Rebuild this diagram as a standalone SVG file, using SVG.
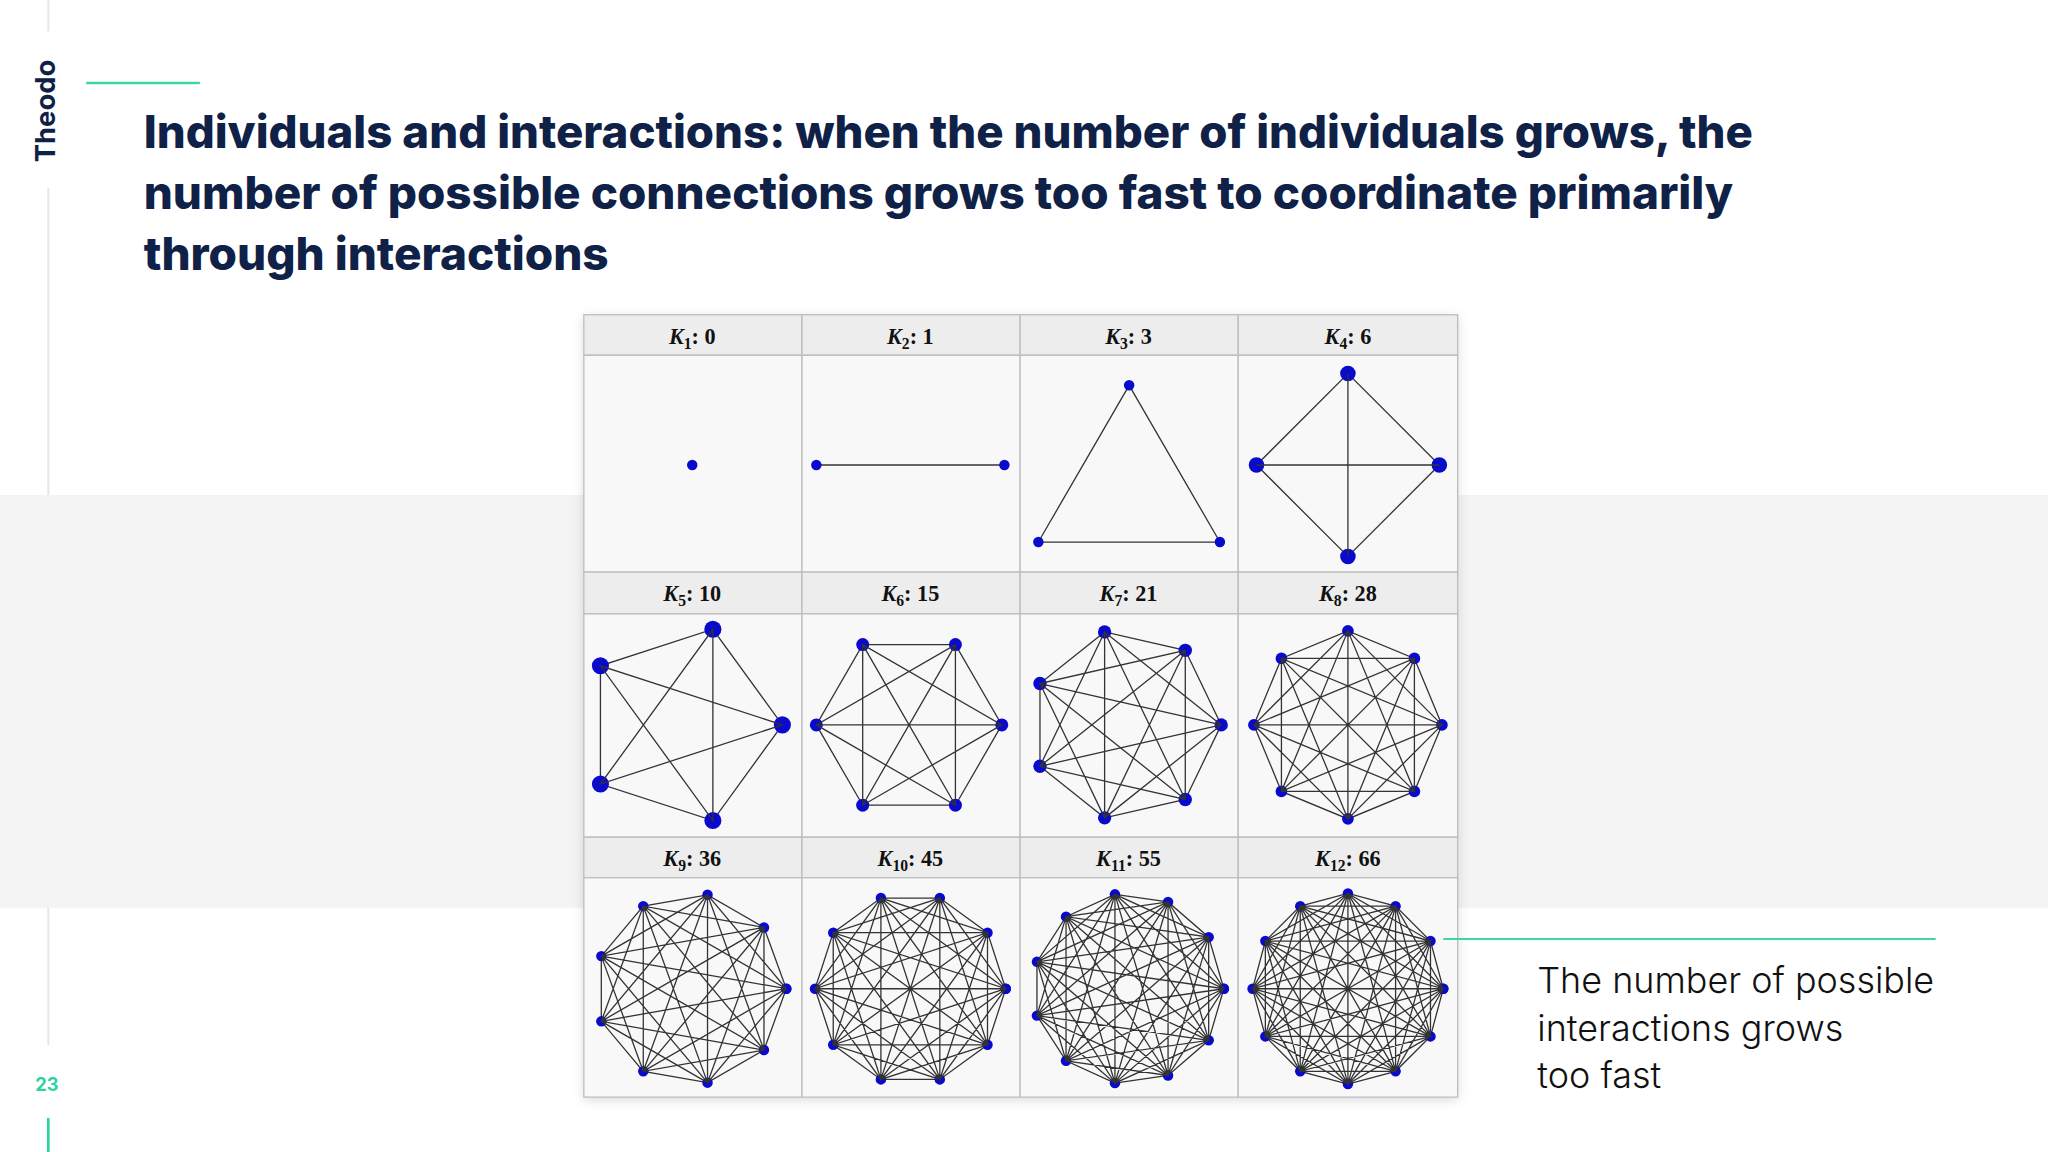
<svg xmlns="http://www.w3.org/2000/svg" width="2048" height="1152" viewBox="0 0 2048 1152">
<style>
.e{fill:none;stroke:#333;stroke-width:1.3;vector-effect:non-scaling-stroke}
.r{marker-start:url(#dS);marker-mid:url(#dS);marker-end:url(#dS)}
.hd{font-family:"Liberation Serif",serif;font-size:17px;font-weight:bold;fill:#111;text-anchor:middle}
.t{font-family:Inter,"Noto Sans",sans-serif;font-weight:800;font-size:35px;fill:#0f2147}
.n{font-family:Inter,"Noto Sans",sans-serif;font-size:27.5px;font-weight:300;fill:#111}
.hb{fill:#ededed;stroke:#bdbdbd;stroke-width:1}
.cb{fill:#f8f8f8;stroke:#bdbdbd;stroke-width:1}
</style>
<defs>
<marker id="dS" markerUnits="userSpaceOnUse" viewBox="-10 -10 20 20" markerWidth="20" markerHeight="20" refX="0" refY="0" overflow="visible"><circle r="5.5" fill="#0a0acc"/></marker>
<marker id="dM" markerUnits="userSpaceOnUse" viewBox="-10 -10 20 20" markerWidth="20" markerHeight="20" refX="0" refY="0" overflow="visible"><circle r="7" fill="#0a0acc"/></marker>
<marker id="dL" markerUnits="userSpaceOnUse" viewBox="-10 -10 20 20" markerWidth="20" markerHeight="20" refX="0" refY="0" overflow="visible"><circle r="8.5" fill="#0a0acc"/></marker>
<marker id="d8" markerUnits="userSpaceOnUse" viewBox="-10 -10 20 20" markerWidth="20" markerHeight="20" refX="0" refY="0" overflow="visible"><circle r="6.2" fill="#0a0acc"/></marker>
<marker id="dA" markerUnits="userSpaceOnUse" viewBox="-10 -10 20 20" markerWidth="20" markerHeight="20" refX="0" refY="0" overflow="visible"><circle r="4" fill="#0a0acc"/></marker>
<filter id="sh" x="-5%" y="-5%" width="110%" height="110%"><feDropShadow dx="0" dy="2" stdDeviation="4" flood-color="#000" flood-opacity="0.15"/></filter>
</defs>
<rect width="2048" height="1152" fill="#fff"/>
<g transform="scale(1.30612)">
<rect id="band" x="0" y="379" width="1568" height="316" fill="#f3f3f3"/>
<g id="sidebar">
<line x1="37" y1="0" x2="37" y2="24" stroke="#e6e6e6" stroke-width="1.5"/>
<line x1="37" y1="144" x2="37" y2="379" stroke="#e6e6e6" stroke-width="1.5"/>
<line x1="37" y1="695" x2="37" y2="800" stroke="#e6e6e6" stroke-width="1.5"/>
<text x="0" y="0" transform="translate(42,85) rotate(-90)" text-anchor="middle" font-family="Inter,'Noto Sans',sans-serif" font-weight="bold" font-size="21" fill="#0f2147">Theodo</text>
<text x="36" y="835" text-anchor="middle" font-family="Inter,'Noto Sans',sans-serif" font-weight="bold" font-size="14" fill="#2bd3a0">23</text>
<line x1="37" y1="856" x2="37" y2="882" stroke="#2bd3a0" stroke-width="2"/>
</g>
<line x1="66" y1="63.5" x2="153" y2="63.5" stroke="#3dd6a6" stroke-width="2"/>
<g id="title">
<text class="t" x="110" y="113" textLength="1232" lengthAdjust="spacingAndGlyphs">Individuals and interactions: when the number of individuals grows, the</text>
<text class="t" x="110" y="160" textLength="1217" lengthAdjust="spacingAndGlyphs">number of possible connections grows too fast to coordinate primarily</text>
<text class="t" x="110" y="207" textLength="356" lengthAdjust="spacingAndGlyphs">through interactions</text>
</g>
<g id="table">
<rect x="447" y="241" width="669" height="599" fill="#f8f8f8" filter="url(#sh)"/>
<rect class="hb" x="447" y="241" width="167" height="31"/><rect class="hb" x="614" y="241" width="167" height="31"/><rect class="hb" x="781" y="241" width="167" height="31"/><rect class="hb" x="948" y="241" width="168" height="31"/>
<rect class="cb" x="447" y="272" width="167" height="166"/><rect class="cb" x="614" y="272" width="167" height="166"/><rect class="cb" x="781" y="272" width="167" height="166"/><rect class="cb" x="948" y="272" width="168" height="166"/>
<rect class="hb" x="447" y="438" width="167" height="32"/><rect class="hb" x="614" y="438" width="167" height="32"/><rect class="hb" x="781" y="438" width="167" height="32"/><rect class="hb" x="948" y="438" width="168" height="32"/>
<rect class="cb" x="447" y="470" width="167" height="171"/><rect class="cb" x="614" y="470" width="167" height="171"/><rect class="cb" x="781" y="470" width="167" height="171"/><rect class="cb" x="948" y="470" width="168" height="171"/>
<rect class="hb" x="447" y="641" width="167" height="31"/><rect class="hb" x="614" y="641" width="167" height="31"/><rect class="hb" x="781" y="641" width="167" height="31"/><rect class="hb" x="948" y="641" width="168" height="31"/>
<rect class="cb" x="447" y="672" width="167" height="168"/><rect class="cb" x="614" y="672" width="167" height="168"/><rect class="cb" x="781" y="672" width="167" height="168"/><rect class="cb" x="948" y="672" width="168" height="168"/>
<text class="hd" x="530" y="263"><tspan font-style="italic">K</tspan><tspan font-size="12" dy="4">1</tspan><tspan dy="-4">: 0</tspan></text>
<text class="hd" x="697" y="263"><tspan font-style="italic">K</tspan><tspan font-size="12" dy="4">2</tspan><tspan dy="-4">: 1</tspan></text>
<text class="hd" x="864" y="263"><tspan font-style="italic">K</tspan><tspan font-size="12" dy="4">3</tspan><tspan dy="-4">: 3</tspan></text>
<text class="hd" x="1032" y="263"><tspan font-style="italic">K</tspan><tspan font-size="12" dy="4">4</tspan><tspan dy="-4">: 6</tspan></text>
<text class="hd" x="530" y="460"><tspan font-style="italic">K</tspan><tspan font-size="12" dy="4">5</tspan><tspan dy="-4">: 10</tspan></text>
<text class="hd" x="697" y="460"><tspan font-style="italic">K</tspan><tspan font-size="12" dy="4">6</tspan><tspan dy="-4">: 15</tspan></text>
<text class="hd" x="864" y="460"><tspan font-style="italic">K</tspan><tspan font-size="12" dy="4">7</tspan><tspan dy="-4">: 21</tspan></text>
<text class="hd" x="1032" y="460"><tspan font-style="italic">K</tspan><tspan font-size="12" dy="4">8</tspan><tspan dy="-4">: 28</tspan></text>
<text class="hd" x="530" y="663"><tspan font-style="italic">K</tspan><tspan font-size="12" dy="4">9</tspan><tspan dy="-4">: 36</tspan></text>
<text class="hd" x="697" y="663"><tspan font-style="italic">K</tspan><tspan font-size="12" dy="4">10</tspan><tspan dy="-4">: 45</tspan></text>
<text class="hd" x="864" y="663"><tspan font-style="italic">K</tspan><tspan font-size="12" dy="4">11</tspan><tspan dy="-4">: 55</tspan></text>
<text class="hd" x="1032" y="663"><tspan font-style="italic">K</tspan><tspan font-size="12" dy="4">12</tspan><tspan dy="-4">: 66</tspan></text>
</g>
<g id="K1"><circle cx="530" cy="356" r="4" fill="#0a0acc"/></g>
<g id="K2"><path class="e" d="M625,356L769,356" marker-start="url(#dA)" marker-end="url(#dA)"/></g>
<g id="K3"><path class="e" d="M864.5,295L934,415L795,415Z" marker-start="url(#dA)" marker-mid="url(#dA)"/></g>
<g id="K4" transform="translate(1032,356) scale(0.7)">
<path class="e" d="M100,0L0,100L-100,0L0,-100Z" marker-start="url(#dL)" marker-mid="url(#dL)"/>
<path class="e" d="M100,0L-100,0M0,100L0,-100"/>
</g>
<g id="K5" transform="translate(522,555) scale(0.77)">
<path class="e" d="M100,0L30.9,95.1L-80.9,58.8L-80.9,-58.8L30.9,-95.1Z" marker-start="url(#dL)" marker-mid="url(#dL)"/>
<path class="e" d="M100,0L-80.9,58.8L30.9,-95.1L30.9,95.1L-80.9,-58.8Z"/>
</g>
<g id="K6" transform="translate(696,555) scale(0.71)">
<path class="e" d="M100,0L50,86.6L-50,86.6L-100,0L-50,-86.6L50,-86.6Z" marker-start="url(#dM)" marker-mid="url(#dM)"/>
<path class="e" d="M100,0L-50,86.6L-50,-86.6Z M50,86.6L-100,0L50,-86.6Z M100,0L-100,0 M50,86.6L-50,-86.6 M-50,86.6L50,-86.6"/>
</g>
<g id="K7" transform="translate(862,555) scale(0.73)">
<path class="e" d="M100,0L62.3,78.2L-22.3,97.5L-90.1,43.4L-90.1,-43.4L-22.3,-97.5L62.3,-78.2Z" marker-start="url(#dM)" marker-mid="url(#dM)"/>
<path class="e" d="M100,0L-22.3,97.5L-90.1,-43.4L62.3,-78.2L62.3,78.2L-90.1,43.4L-22.3,-97.5Z M100,0L-90.1,43.4L62.3,-78.2L-22.3,97.5L-22.3,-97.5L62.3,78.2L-90.1,-43.4Z"/>
</g>
<g id="K8" transform="translate(1032,555) scale(0.72)">
<path class="e" d="M100,0L70.7,70.7L0,100L-70.7,70.7L-100,0L-70.7,-70.7L0,-100L70.7,-70.7Z" marker-start="url(#d8)" marker-mid="url(#d8)"/>
<path class="e" d="M100,0L0,100L-100,0L0,-100Z M70.7,70.7L-70.7,70.7L-70.7,-70.7L70.7,-70.7Z M100,0L-70.7,70.7L0,-100L70.7,70.7L-100,0L70.7,-70.7L0,100L-70.7,-70.7Z M100,0L-100,0M70.7,70.7L-70.7,-70.7M0,100L0,-100M-70.7,70.7L70.7,-70.7"/>
</g>
<g id="K9" transform="translate(529,757) scale(0.73)">
<path class="e r" d="M100,0L76.6,64.3L17.4,98.5L-50,86.6L-94,34.2L-94,-34.2L-50,-86.6L17.4,-98.5L76.6,-64.3Z"/>
<path class="e" d="M100,0L17.4,98.5L-94,34.2L-50,-86.6L76.6,-64.3L76.6,64.3L-50,86.6L-94,-34.2L17.4,-98.5Z M100,0L-50,86.6L-50,-86.6Z M76.6,64.3L-94,34.2L17.4,-98.5Z M17.4,98.5L-94,-34.2L76.6,-64.3Z M100,0L-94,34.2L76.6,-64.3L-50,86.6L17.4,-98.5L17.4,98.5L-50,-86.6L76.6,64.3L-94,-34.2Z"/>
</g>
<g id="K10" transform="translate(697,757) scale(0.73)">
<path class="e r" d="M100,0L80.9,58.8L30.9,95.1L-30.9,95.1L-80.9,58.8L-100,0L-80.9,-58.8L-30.9,-95.1L30.9,-95.1L80.9,-58.8Z"/>
<path class="e" d="M100,0L30.9,95.1L-80.9,58.8L-80.9,-58.8L30.9,-95.1Z M80.9,58.8L-30.9,95.1L-100,0L-30.9,-95.1L80.9,-58.8Z M100,0L-30.9,95.1L-80.9,-58.8L80.9,-58.8L30.9,95.1L-100,0L30.9,-95.1L80.9,58.8L-80.9,58.8L-30.9,-95.1Z M100,0L-80.9,58.8L30.9,-95.1L30.9,95.1L-80.9,-58.8Z M80.9,58.8L-100,0L80.9,-58.8L-30.9,95.1L-30.9,-95.1Z M100,0L-100,0M80.9,58.8L-80.9,-58.8M30.9,95.1L-30.9,-95.1M-30.9,95.1L30.9,-95.1M-80.9,58.8L80.9,-58.8"/>
</g>
<g id="K11" transform="translate(864,757) scale(0.73)">
<path class="e r" d="M100,0L84.1,54.1L41.5,91L-14.2,99L-65.5,75.6L-96,28.2L-96,-28.2L-65.5,-75.6L-14.2,-99L41.5,-91L84.1,-54.1Z"/>
<path class="e" d="M100,0L41.5,91L-65.5,75.6L-96,-28.2L-14.2,-99L84.1,-54.1L84.1,54.1L-14.2,99L-96,28.2L-65.5,-75.6L41.5,-91Z M100,0L-14.2,99L-96,-28.2L41.5,-91L84.1,54.1L-65.5,75.6L-65.5,-75.6L84.1,-54.1L41.5,91L-96,28.2L-14.2,-99Z M100,0L-65.5,75.6L-14.2,-99L84.1,54.1L-96,28.2L41.5,-91L41.5,91L-96,-28.2L84.1,-54.1L-14.2,99L-65.5,-75.6Z M100,0L-96,28.2L84.1,-54.1L-65.5,75.6L41.5,-91L-14.2,99L-14.2,-99L41.5,91L-65.5,-75.6L84.1,54.1L-96,-28.2Z"/>
</g>
<g id="K12" transform="translate(1032,757) scale(0.73)">
<path class="e r" d="M100,0L86.6,50L50,86.6L0,100L-50,86.6L-86.6,50L-100,0L-86.6,-50L-50,-86.6L0,-100L50,-86.6L86.6,-50Z"/>
<path class="e" d="M100,0L50,86.6L-50,86.6L-100,0L-50,-86.6L50,-86.6Z M86.6,50L0,100L-86.6,50L-86.6,-50L0,-100L86.6,-50Z M100,0L0,100L-100,0L0,-100Z M86.6,50L-50,86.6L-86.6,-50L50,-86.6Z M50,86.6L-86.6,50L-50,-86.6L86.6,-50Z M100,0L-50,86.6L-50,-86.6Z M86.6,50L-86.6,50L0,-100Z M50,86.6L-100,0L50,-86.6Z M0,100L-86.6,-50L86.6,-50Z M100,0L-86.6,50L50,-86.6L0,100L-50,-86.6L86.6,50L-100,0L86.6,-50L-50,86.6L0,-100L50,86.6L-86.6,-50Z M100,0L-100,0M86.6,50L-86.6,-50M50,86.6L-50,-86.6M0,100L0,-100M-50,86.6L50,-86.6M-86.6,50L86.6,-50"/>
</g>
<g id="note">
<line x1="1105" y1="719" x2="1482" y2="719" stroke="#3dd6a6" stroke-width="1.5"/>
<text class="n" x="1177" y="760">The number of possible</text>
<text class="n" x="1177" y="797">interactions grows</text>
<text class="n" x="1177" y="833">too fast</text>
</g>
</g>
</svg>
